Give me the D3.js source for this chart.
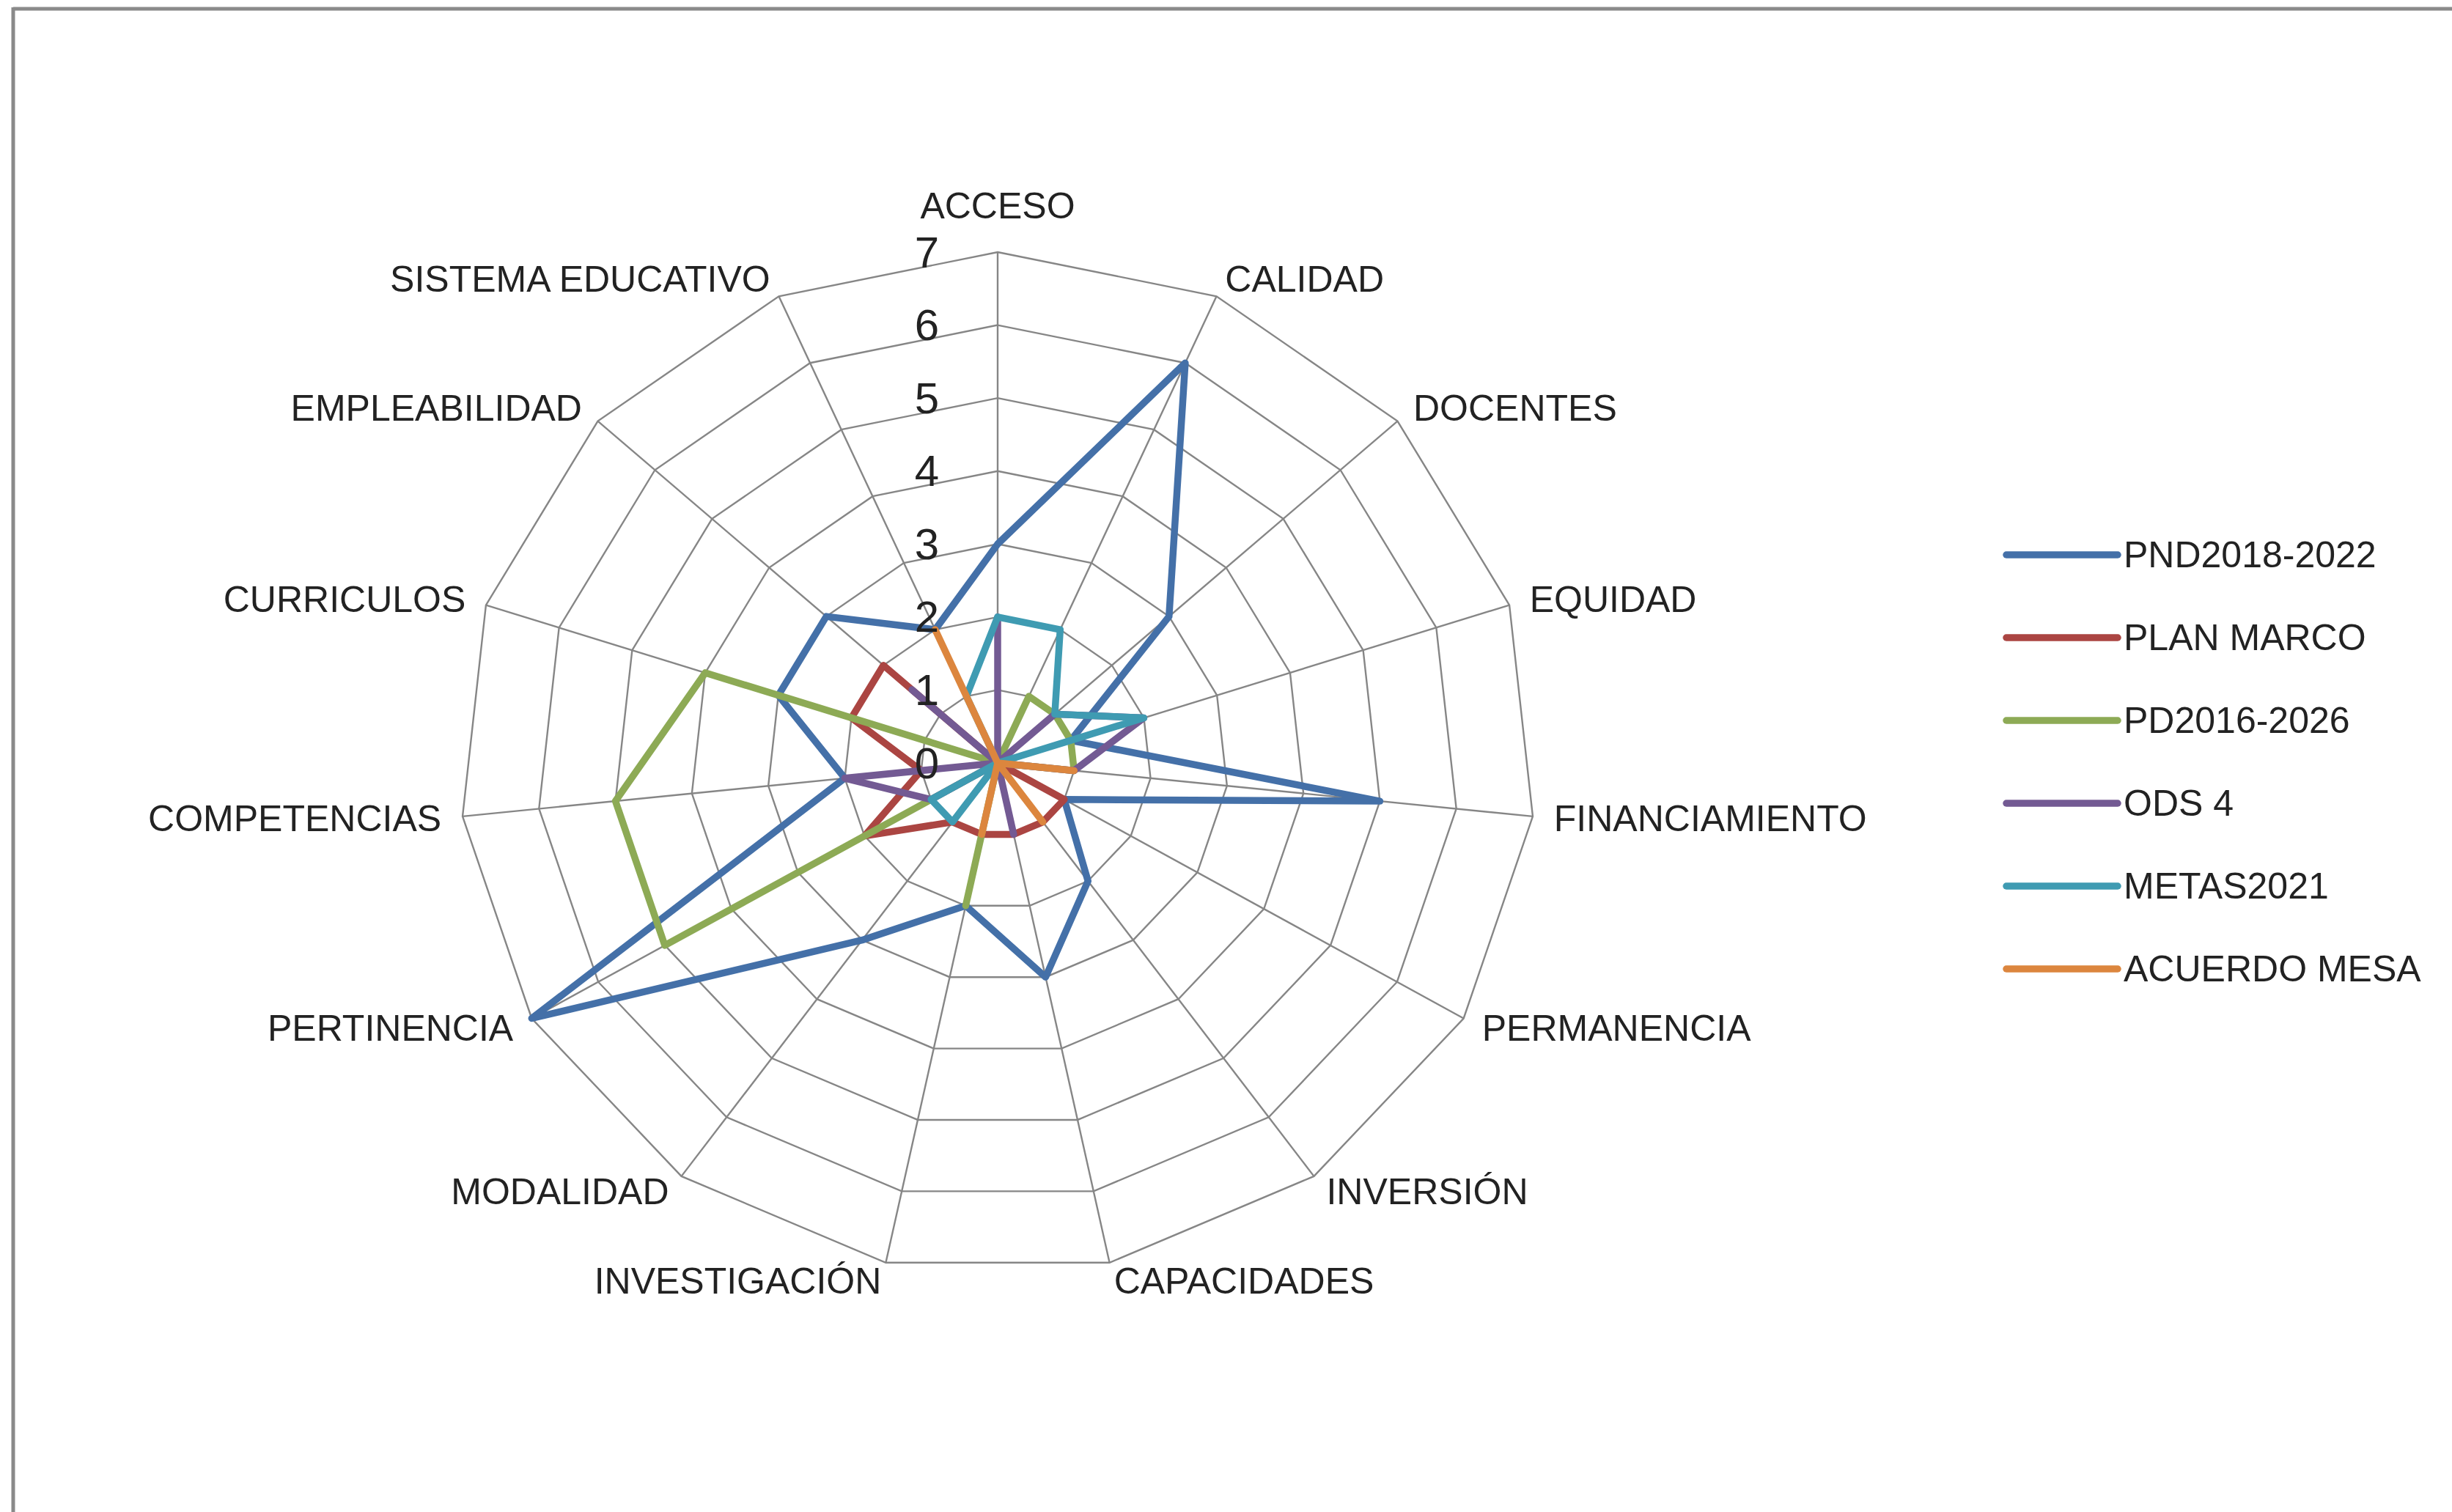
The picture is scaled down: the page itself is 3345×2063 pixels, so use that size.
<!DOCTYPE html>
<html>
<head>
<meta charset="utf-8">
<script src="https://cdn.jsdelivr.net/npm/d3@7.9.0/dist/d3.min.js"></script>
<style>
  html, body { margin: 0; padding: 0; background: #fff; }
  svg { display: block; }
  text { font-family: "Liberation Sans", Arial, sans-serif; fill: #222; }
</style>
</head>
<body>
<svg id="chart" width="3345" height="2063"></svg>
<script>
// Categories, clockwise from the top
const categories = [
  "ACCESO", "CALIDAD", "DOCENTES", "EQUIDAD", "FINANCIAMIENTO",
  "PERMANENCIA", "INVERSIÓN", "CAPACIDADES", "INVESTIGACIÓN", "MODALIDAD",
  "PERTINENCIA", "COMPETENCIAS", "CURRICULOS", "EMPLEABILIDAD", "SISTEMA EDUCATIVO"
];

// Series values (one per category)
const pnd       = [3, 6, 3, 1, 5, 1, 2, 3, 2, 3, 7, 2, 3, 3, 2];
const planMarco = [0, 0, 0, 0, 0, 1, 1, 1, 1, 1, 2, 1, 2, 2, 0];
const pd        = [0, 1, 1, 1, 1, 0, 0, 0, 2, 0, 5, 5, 4, 0, 0];
const ods4      = [2, 0, 1, 2, 1, 0, 0, 1, 0, 0, 1, 2, 0, 1.5, 0];
const metas     = [2, 2, 1, 2, 0, 0, 0, 0, 0, 1, 1, 0, 0, 0, 1];
const acuerdo   = [0, 0, 0, 0, 1, 0, 1, 0, 1, 0, 0, 0, 0, 0, 2];

const seriesNames = ["PND2018-2022", "PLAN MARCO", "PD2016-2026", "ODS 4", "METAS2021", "ACUERDO MESA"];
const seriesValues = [pnd, planMarco, pd, ods4, metas, acuerdo];
const seriesColors = ["#4470a8", "#ab4542", "#8daa55", "#735a93", "#3f9bb2", "#dc863e"];

// Radial ticks
const ticks = [0, 1, 2, 3, 4, 5, 6, 7];

// Layout
const cx = 1361, cy = 1041;
const ry = 697;          // vertical radius of the outer ring
const kx = 734 / 697;    // picture is a bit wider than tall

const svg = d3.select("#chart");

// page frame
svg.append("line").attr("x1", 18).attr("x2", 3345).attr("y1", 12).attr("y2", 12)
  .attr("stroke", "#8a8a8a").attr("stroke-width", 5);
svg.append("line").attr("x1", 18).attr("x2", 18).attr("y1", 10).attr("y2", 2063)
  .attr("stroke", "#8a8a8a").attr("stroke-width", 5);

const r = d3.scaleLinear().domain([0, 7]).range([0, ry]);
const angle = d3.scaleLinear().domain([0, categories.length]).range([0, 2 * Math.PI]);

const px = (i, v) => cx + r(v) * Math.sin(angle(i)) * kx;
const py = (i, v) => cy - r(v) * Math.cos(angle(i));

const g = svg.append("g");

// ring grid
const ring = d3.line().curve(d3.curveLinearClosed);
g.selectAll(".ring")
  .data(ticks.filter(t => t > 0))
  .enter().append("path")
  .attr("class", "ring")
  .attr("d", t => ring(categories.map((c, i) => [px(i, t), py(i, t)])))
  .attr("fill", "none")
  .attr("stroke", "#868686")
  .attr("stroke-width", 2.4);

// spokes
g.selectAll(".spoke")
  .data(categories)
  .enter().append("line")
  .attr("class", "spoke")
  .attr("x1", cx).attr("y1", cy)
  .attr("x2", (c, i) => px(i, 7))
  .attr("y2", (c, i) => py(i, 7))
  .attr("stroke", "#868686")
  .attr("stroke-width", 2.4);

// series
const line = d3.line()
  .x((v, i) => px(i, v))
  .y((v, i) => py(i, v))
  .curve(d3.curveLinearClosed);

g.selectAll(".series")
  .data(seriesValues)
  .enter().append("path")
  .attr("class", "series")
  .attr("d", d => line(d))
  .attr("fill", "none")
  .attr("stroke", (d, i) => seriesColors[i])
  .attr("stroke-width", 9.5)
  .attr("stroke-linejoin", "round")
  .attr("stroke-linecap", "round");

// tick labels along the top spoke
g.selectAll(".tick")
  .data(ticks)
  .enter().append("text")
  .attr("class", "tick")
  .attr("x", cx - 80)
  .attr("y", t => cy - r(t))
  .attr("text-anchor", "end")
  .attr("dominant-baseline", "central")
  .attr("font-size", 60)
  .text(t => t);

// category labels
g.selectAll(".cat")
  .data(categories)
  .enter().append("text")
  .attr("class", "cat")
  .attr("x", (c, i) => px(i, 7) + 29 * Math.sin(angle(i)))
  .attr("y", (c, i) => i === 0 ? py(i, 7) - 63 : py(i, 7) - 26 * Math.cos(angle(i)))
  .attr("text-anchor", (c, i) => {
    const s = Math.sin(angle(i));
    return Math.abs(s) < 0.01 ? "middle" : (s > 0 ? "start" : "end");
  })
  .attr("dominant-baseline", "central")
  .attr("font-size", 50)
  .text(c => c);

// legend
const legend = svg.append("g").attr("transform", "translate(2737,757)");
const item = legend.selectAll(".legend-item")
  .data(seriesNames)
  .enter().append("g")
  .attr("class", "legend-item")
  .attr("transform", (d, i) => `translate(0,${i * 113})`);

item.append("line")
  .attr("x1", 0).attr("x2", 152)
  .attr("y1", 0).attr("y2", 0)
  .attr("stroke", (d, i) => seriesColors[i])
  .attr("stroke-width", 9.5)
  .attr("stroke-linecap", "round");

item.append("text")
  .attr("x", 160)
  .attr("y", 0)
  .attr("dominant-baseline", "central")
  .attr("font-size", 50)
  .text(d => d);
</script>
</body>
</html>
